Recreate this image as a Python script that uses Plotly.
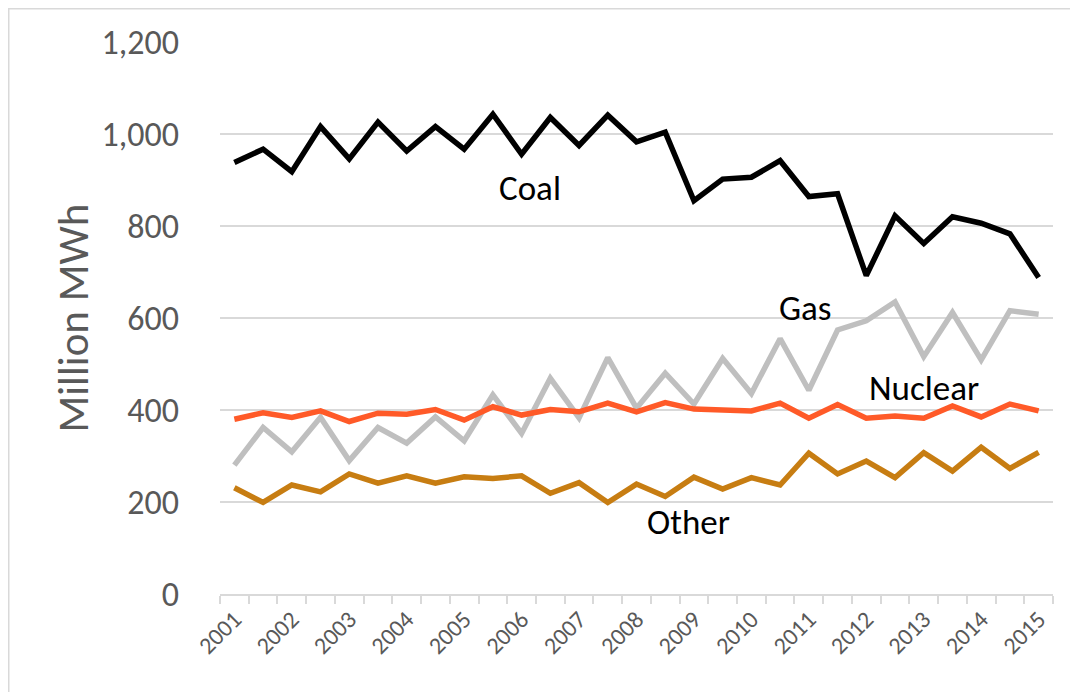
import plotly.graph_objects as go

years = [str(y) for y in range(2001, 2016)]
# half-year periods, 29 points (2001 .. 2015)
periods = list(range(29))

coal = [938, 967, 918, 1016, 946, 1026, 963, 1016, 967, 1043,
        956, 1036, 975, 1041, 983, 1004, 855, 902, 906, 942,
        864, 870, 692, 822, 762, 820, 806, 783, 688]
gas = [280, 362, 309, 384, 290, 362, 328, 385, 333, 433,
       349, 469, 383, 514, 404, 480, 413, 512, 436, 555,
       443, 574, 594, 635, 516, 612, 509, 616, 608]
nuclear = [380, 394, 384, 398, 375, 393, 391, 401, 378, 407,
           389, 401, 396, 415, 396, 416, 402, 401, 398, 415,
           382, 412, 382, 387, 382, 409, 385, 413, 398]
other = [231, 199, 237, 222, 261, 241, 257, 241, 255, 251,
         257, 219, 242, 199, 239, 212, 254, 228, 253, 237,
         306, 261, 289, 253, 307, 267, 319, 273, 308]

series = [
    ("Coal", coal, "#000000"),
    ("Gas", gas, "#BFBFBF"),
    ("Nuclear", nuclear, "#FF5A28"),
    ("Other", other, "#C77D12"),
]

labels = [
    ("Coal", 10.3, 883),
    ("Gas", 19.9, 622),
    ("Nuclear", 24.0, 448),
    ("Other", 15.8, 157),
]

FONT = "Carlito, Lato, sans-serif"

fig = go.Figure()
for name, vals, color in [series[3], series[1], series[2], series[0]]:
    fig.add_trace(go.Scatter(
        x=periods, y=vals, mode="lines", name=name,
        line=dict(color=color, width=5.5),
        showlegend=False, hoverinfo="skip",
    ))

for text, xv, yv in labels:
    fig.add_annotation(x=xv, y=yv, text=text, showarrow=False,
                       font=dict(family=FONT, size=35, color="#000000"),
                       xanchor="center", yanchor="middle")

# y-axis title
fig.add_annotation(xref="paper", yref="paper", x=-0.177, y=0.5,
                   text="Million MWh", textangle=-90, showarrow=False,
                   font=dict(family=FONT, size=43, color="#595959"),
                   xanchor="center", yanchor="middle")

fig.update_layout(
    width=1078, height=692,
    margin=dict(l=212, r=33, t=34, b=106),
    paper_bgcolor="white", plot_bgcolor="white",
    font=dict(family=FONT, color="#595959"),
)

fig.update_xaxes(
    range=[-0.5, 28.5],
    tickvals=[2 * i for i in range(len(years))],
    ticktext=years,
    tickangle=-45,
    tickfont=dict(family=FONT, size=24, color="#595959"),
    ticks="", showgrid=False, zeroline=False,
    showline=True, linecolor="#D9D9D9", linewidth=1.5,
    minor=dict(tickvals=[i - 0.5 for i in range(30)], ticks="outside",
               ticklen=8, tickcolor="#D9D9D9", tickwidth=1.5, showgrid=False),
    fixedrange=True,
)

fig.update_yaxes(
    range=[0, 1200], tickvals=[0, 200, 400, 600, 800, 1000, 1200],
    tickformat=",d",
    tickfont=dict(family=FONT, size=34, color="#595959"),
    ticks="", ticklabelstandoff=40,
    showgrid=True, gridcolor="#D9D9D9", gridwidth=1.5,
    zeroline=False, showline=False,
    fixedrange=True,
)

# outer chart border
fig.add_shape(type="rect", xref="paper", yref="paper",
              x0=-0.2536, x1=1.05, y0=-0.25, y1=1.0602,
              line=dict(color="#D9D9D9", width=1.5), layer="below")

fig.write_html("out.html")
